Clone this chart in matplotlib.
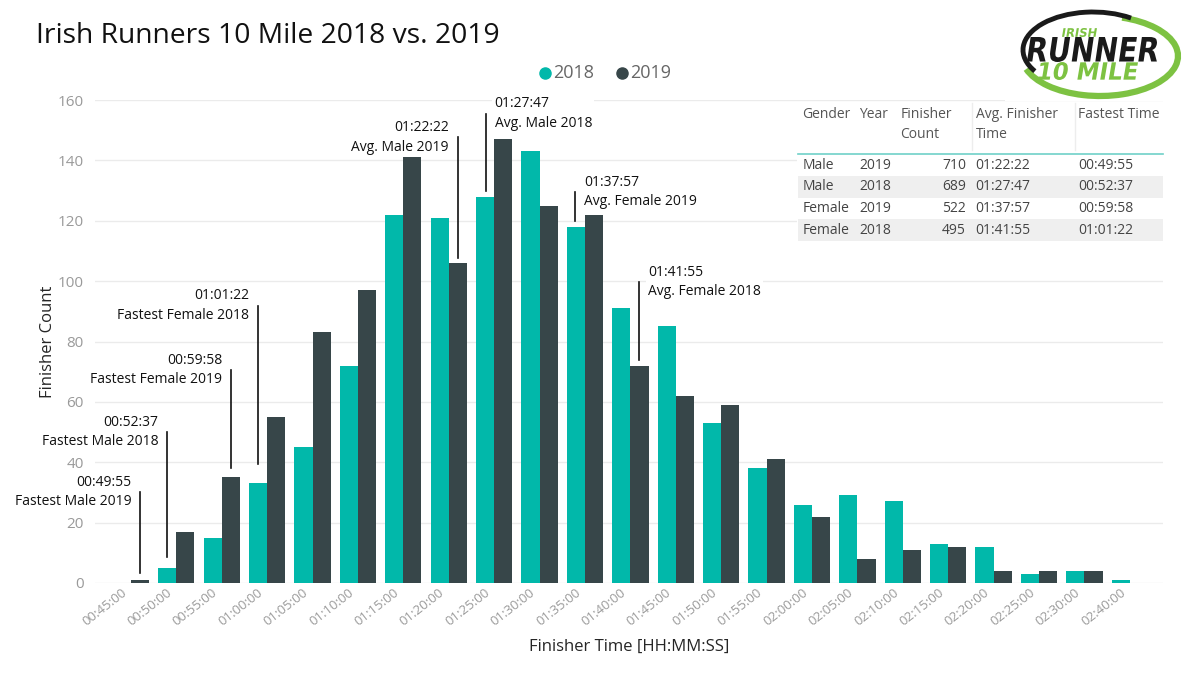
import matplotlib
matplotlib.use("Agg")
import numpy as np
import matplotlib.pyplot as plt
from matplotlib.patches import Rectangle, Arc, PathPatch
from matplotlib.textpath import TextPath
from matplotlib.font_manager import FontProperties
from matplotlib.transforms import Affine2D, ScaledTranslation

TIME_BINS = ["00:45:00", "00:50:00", "00:55:00", "01:00:00", "01:05:00", "01:10:00",
             "01:15:00", "01:20:00", "01:25:00", "01:30:00", "01:35:00", "01:40:00",
             "01:45:00", "01:50:00", "01:55:00", "02:00:00", "02:05:00", "02:10:00",
             "02:15:00", "02:20:00", "02:25:00", "02:30:00", "02:40:00"]
FINISHERS_2018 = [0, 5, 15, 33, 45, 72, 122, 121, 128, 143, 118, 91,
                  85, 53, 38, 26, 29, 27, 13, 12, 3, 4, 1]
FINISHERS_2019 = [1, 17, 35, 55, 83, 97, 142, 106, 147, 125, 122, 72,
                  62, 59, 41, 22, 8, 11, 12, 4, 4, 4, 0]

# Markierungen: Zeit, Beschriftung, x-Position (Kategorie-Einheiten), Linie von/bis, Textseite
MARKER_TIMES = ["00:49:55", "00:52:37", "00:59:58", "01:01:22", "01:22:22", "01:27:47", "01:37:57", "01:41:55"]
MARKER_LABELS = ["Fastest Male 2019", "Fastest Male 2018", "Fastest Female 2019", "Fastest Female 2018",
                 "Avg. Male 2019", "Avg. Male 2018", "Avg. Female 2019", "Avg. Female 2018"]
MARKER_X = [0.21, 0.80, 2.21, 2.81, 7.20, 7.81, 9.78, 11.20]
MARKER_Y0 = [3.3, 8.7, 38.1, 39.3, 107.5, 129.9, 120.0, 73.8]
MARKER_Y1 = [30.1, 50.1, 70.5, 91.9, 147.6, 155.5, 129.6, 99.8]
MARKER_SIDE = ["left", "left", "left", "left", "left", "right", "right", "right"]

TABLE_HEADER = ["Gender", "Year", "Finisher\nCount", "Avg. Finisher\nTime", "Fastest Time"]
TABLE_GENDER = ["Male", "Male", "Female", "Female"]
TABLE_YEAR = ["2019", "2018", "2019", "2018"]
TABLE_COUNT = [710, 689, 522, 495]
TABLE_AVG = ["01:22:22", "01:27:47", "01:37:57", "01:41:55"]
TABLE_FASTEST = ["00:49:55", "00:52:37", "00:59:58", "01:01:22"]

TEAL = "#01B8AA"
DARK = "#374649"
GREEN = "#7DC242"
FONT = ["Open Sans", "DejaVu Sans"]

plt.rcParams["font.family"] = FONT

W, H = 1200, 673
fig = plt.figure(figsize=(W / 100, H / 100), dpi=100)
fig.patch.set_facecolor("white")

# Hauptdiagramm
ax = fig.add_axes([95 / W, 1 - 583 / H, (1163 - 95) / W, (583 - 100) / H])
x = np.arange(len(TIME_BINS))
ax.bar(x - 0.2, FINISHERS_2018, width=0.4, color=TEAL, zorder=2)
ax.bar(x + 0.2, FINISHERS_2019, width=0.4, color=DARK, zorder=2)
ax.set_xlim(-0.79, 22.73)
ax.set_ylim(0, 160)
ax.set_yticks(range(0, 161, 20))
ax.yaxis.grid(True, color="#ebebeb", lw=1, zorder=0)
ax.set_axisbelow(True)
for s in ax.spines.values():
    s.set_visible(False)
ax.tick_params(axis="both", length=0, colors="#9a9a9a")
ax.tick_params(axis="y", labelsize=11, pad=8)
ax.set_xticks(x)
ax.set_xticklabels(TIME_BINS, rotation=38, ha="right", va="center", rotation_mode="anchor", fontsize=9.5)
shift = ScaledTranslation(-0.06, -0.03, fig.dpi_scale_trans)
for lab in ax.get_xticklabels():
    lab.set_transform(lab.get_transform() + shift)
ax.set_ylabel("Finisher Count", fontsize=12, color="#252525", labelpad=1)
ax.set_xlabel("Finisher Time [HH:MM:SS]", fontsize=12, color="#252525", labelpad=8)

for t, lab, mx, y0, y1, side in zip(MARKER_TIMES, MARKER_LABELS, MARKER_X, MARKER_Y0, MARKER_Y1, MARKER_SIDE):
    ax.plot([mx, mx], [y0, y1], color="#111111", lw=1.2, zorder=3)
    dx = -0.09 if side == "left" else 0.09
    tr = ax.transData + ScaledTranslation(dx, 0, fig.dpi_scale_trans)
    ax.text(mx, y1, f"{t}\n{lab}", transform=tr, ha="right" if side == "left" else "left",
            multialignment="right" if side == "left" else "left", va="center",
            fontsize=10, color="#111111", linespacing=1.4, zorder=4,
            bbox=dict(facecolor="white", edgecolor="none", pad=1.5))

# Overlay in Pixelkoordinaten für Titel, Legende, Tabelle und Logo
ov = fig.add_axes([0, 0, 1, 1], zorder=5)
ov.set_xlim(0, W)
ov.set_ylim(H, 0)
ov.axis("off")
ov.patch.set_alpha(0)

ov.text(36, 36, "Irish Runners 10 Mile 2018 vs. 2019", fontsize=20.3, color="#111111", va="center", ha="left")

ov.plot([545], [73], "o", color=TEAL, ms=8)
ov.text(553, 73, "2018", fontsize=13, color="#666666", va="center")
ov.plot([622], [73], "o", color=DARK, ms=8)
ov.text(630, 73, "2019", fontsize=13, color="#666666", va="center")

# Tabelle
ov.add_patch(Rectangle((797, 103), 368, 142, facecolor="white", edgecolor="none"))
row_y = [165.7, 186.7, 208.3, 230.0]
for i, ry in enumerate(row_y):
    if i % 2 == 1:
        ov.add_patch(Rectangle((798, ry - 11), 365, 22, facecolor="#efefef", edgecolor="none"))
ov.plot([798, 1163], [153.5, 153.5], color="#6fd1c8", lw=1.2)
for sx in (971.5, 1075):
    ov.plot([sx, sx], [103, 150], color="#ededed", lw=1)
col_x = [802.5, 859, 900.5, 975.5, 1078.5]
for cx, hd in zip(col_x, TABLE_HEADER):
    ov.text(cx, 107, hd, fontsize=10, color="#555555", va="top", ha="left", linespacing=1.5)
for ry, g, yr, cnt, avg, fast in zip(row_y, TABLE_GENDER, TABLE_YEAR, TABLE_COUNT, TABLE_AVG, TABLE_FASTEST):
    kw = dict(fontsize=10, color="#444444", va="center")
    ov.text(col_x[0], ry, g, ha="left", **kw)
    ov.text(col_x[1], ry, yr, ha="left", **kw)
    ov.text(966, ry, str(cnt), ha="right", **kw)
    ov.text(col_x[3], ry, avg, ha="left", **kw)
    ov.text(col_x[4], ry, fast, ha="left", **kw)

# Logo (nachgebaut)
ov.add_patch(Rectangle((1005, 0), 195, 101, facecolor="white", edgecolor="none"))
ov.add_patch(Arc((1100, 56), 156, 80, theta1=-60, theta2=170, color=GREEN, lw=4.5))
ov.add_patch(Arc((1093, 50), 140, 76, theta1=160, theta2=320, color="#1a1a1a", lw=3.5))


def fit_text(s, box, color, skew=10):
    x0, y0, x1, y1 = box
    tp = TextPath((0, 0), s, size=10, prop=FontProperties(family="DejaVu Sans", weight="bold"))
    path = Affine2D().skew_deg(skew, 0).transform_path(tp)
    bb = path.get_extents()
    tr = Affine2D().translate(-bb.x0, -bb.y0).scale((x1 - x0) / bb.width, -(y1 - y0) / bb.height).translate(x0, y1)
    ov.add_patch(PathPatch(tr.transform_path(path), facecolor=color, edgecolor="none"))


fit_text("IRISH", (1062, 28, 1097, 37), GREEN)
fit_text("RUNNER", (1027, 37, 1157, 62), "#1a1a1a")
fit_text("10 MILE", (1038, 62, 1138, 80), GREEN)

fig.savefig("out.png", dpi=100, facecolor="white")
